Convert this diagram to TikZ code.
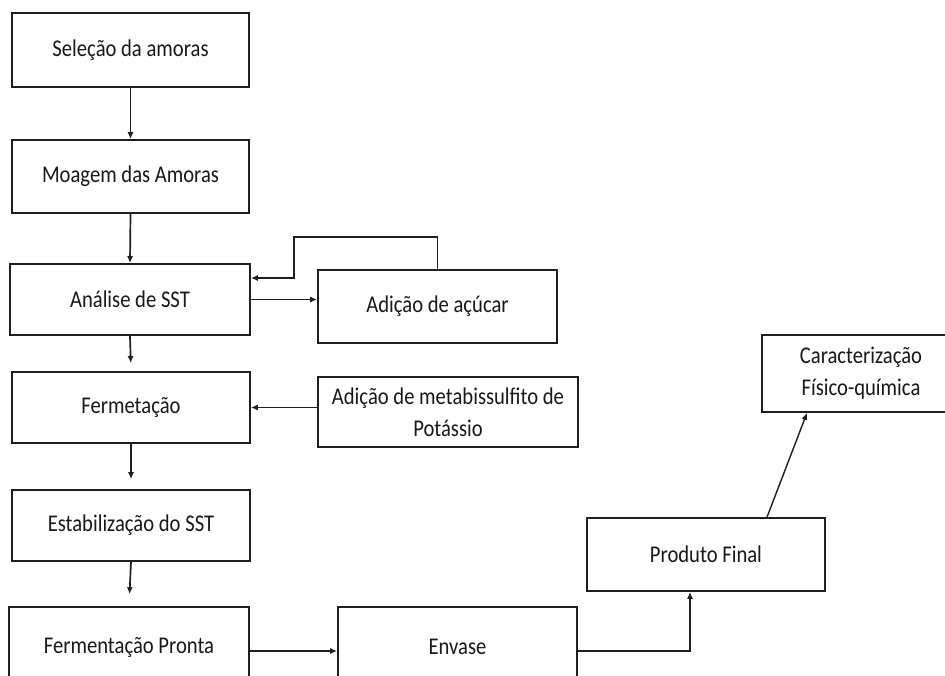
\documentclass[tikz,border=0pt]{standalone}
\usepackage{fontspec}
\setmainfont{Carlito}[FakeStretch=0.86]
\usetikzlibrary{arrows.meta,calc}
\definecolor{lin}{gray}{0.12}
\tikzset{
  stepbox/.style={draw=lin, line width=1.7pt, rectangle, inner sep=0pt, align=center,
    font=\fontsize{24}{32}\selectfont, text=black!90},
  arr/.style={draw=lin, line width=1.7pt, -{Latex[length=7pt,width=6pt]}},
}
\begin{document}
\begin{tikzpicture}[x=1pt,y=-1pt]
\useasboundingbox (0,0) rectangle (945,675);
\fill[white] (0,0) rectangle (945,675);
\node[stepbox, minimum width=237, minimum height=74] (sel) at (130.5,50) {Seleção da amoras};
\node[stepbox, minimum width=237, minimum height=73] (moa) at (130.5,176.5) {Moagem das Amoras};
\node[stepbox, minimum width=240, minimum height=71] (ana) at (130,299.5) {Análise de SST};
\node[stepbox, minimum width=239, minimum height=73] (acu) at (437.5,306.5) {Adição de açúcar};
\node[stepbox, minimum width=238, minimum height=71] (fer) at (131,407.5) {Fermetação};
\node[stepbox, minimum width=260, minimum height=70] (met) at (448,412) {Adição de metabissulfito de\\Potássio};
\node[stepbox, minimum width=238, minimum height=71] (est) at (131,525.5) {Estabilização do SST};
\node[stepbox, minimum width=240, minimum height=80] (fp) at (129,647) {Fermentação Pronta};
\node[stepbox, minimum width=239, minimum height=80] (env) at (457.5,647) {Envase};
\node[stepbox, minimum width=238, minimum height=73] (pro) at (706,554.5) {Produto Final};
\node[stepbox, minimum width=198, minimum height=77] (car) at (861,373.5) {Caracterização\\Físico-química};

\coordinate (fbA) at (294,237);
\coordinate (fbB) at (294,278);

\draw[arr] (sel.south) -- (moa.north);
\draw[arr] (moa.south) -- (ana.north);
\draw[arr] (ana.east) -- (ana.east -| acu.west);
\draw[arr] (acu.north) |- (fbA) -- (fbB) -- (fbB -| ana.east);
\draw[arr, shorten >=8pt] (ana.south) -- (fer.north);
\draw[arr] (fer.east -| met.west) -- (fer.east);
\draw[arr, shorten >=10pt] (fer.south) -- (est.north);
\draw[arr, shorten >=12pt] (est.south) -- (fp.north);
\draw[arr] ([yshift=-4pt]fp.east) -- ([yshift=-4pt]fp.east -| env.west);
\draw[arr] ([yshift=-4pt]env.east) -| ([xshift=-16pt]pro.south);
\draw[arr, line width=1.4pt] ([xshift=61pt]pro.north) -- ([xshift=-54pt]car.south);
\end{tikzpicture}
\end{document}
